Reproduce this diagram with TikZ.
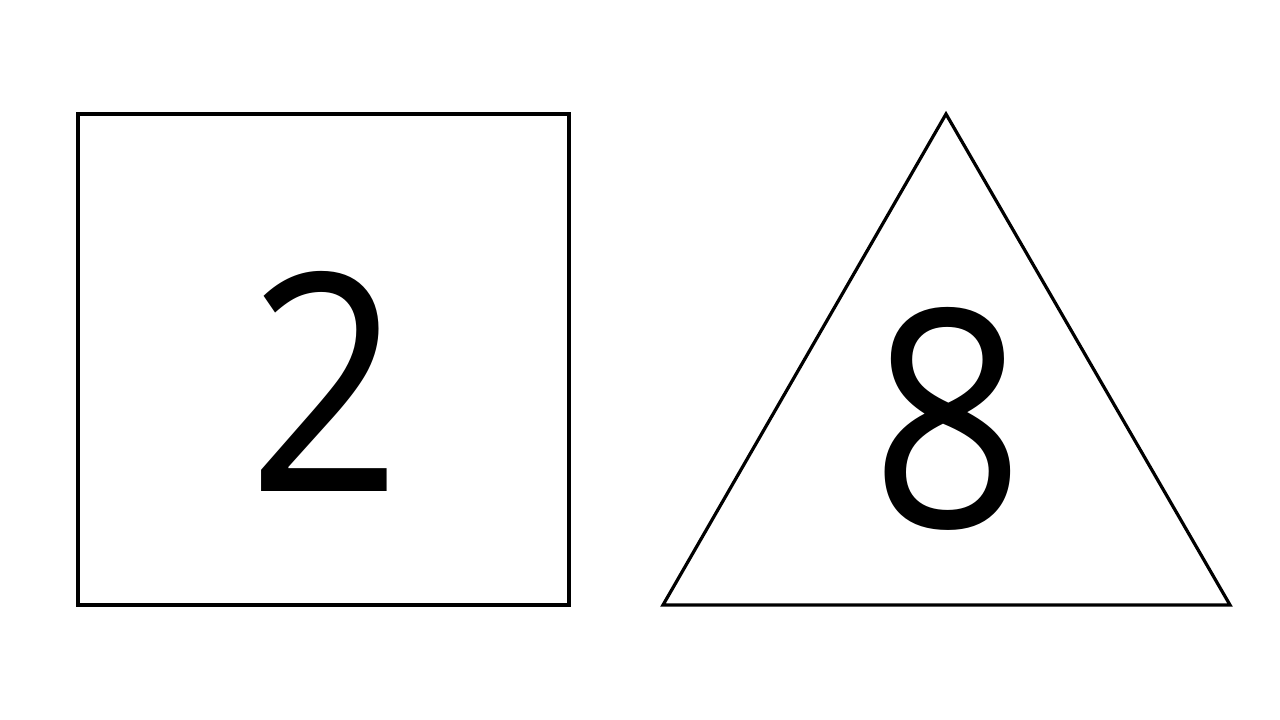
\documentclass[tikz,border=0pt]{standalone}
\usepackage{fontspec}
\setmainfont{Open Sans}
\begin{document}
\begin{tikzpicture}[x=0.75pt,y=-0.75pt,
  shapeline/.style={draw=black,line width=2.4pt,line join=miter},
  digit/.style={inner sep=0pt,xscale=0.88,font=\fontsize{228}{228}\selectfont}]
\useasboundingbox (0,0) rectangle (1280,720);
\draw[shapeline] (78,114) rectangle (569,605);
\coordinate (apex) at (946,114);
\coordinate (bl) at (663,605);
\coordinate (br) at (1230,605);
\draw[shapeline] (apex) -- (br) -- (bl) -- cycle;
\node[digit] (two) at (325,381) {2};
\node[digit] (eight) at (948,419) {8};
\end{tikzpicture}
\end{document}
